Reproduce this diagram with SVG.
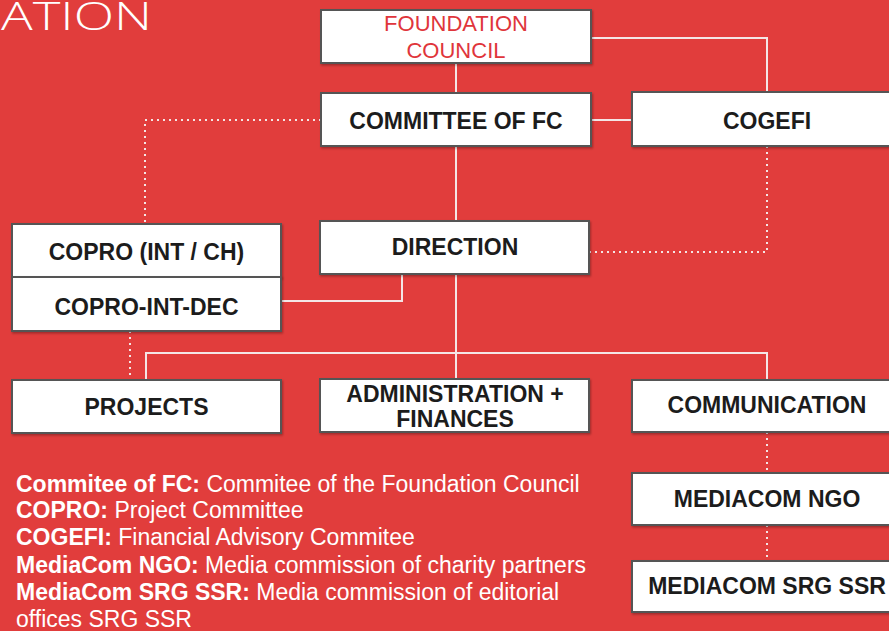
<svg xmlns="http://www.w3.org/2000/svg" width="889" height="631" viewBox="0 0 889 631">
<defs>
<filter id="sh" x="-5%" y="-10%" width="110%" height="130%">
<feDropShadow dx="1" dy="1.5" stdDeviation="1" flood-color="#000" flood-opacity="0.3"/>
</filter>
<style>
.box{fill:#ffffff;stroke:#555555;stroke-width:2;filter:url(#sh)}
.lbl{font-family:"Liberation Sans",Arial,sans-serif;font-size:23px;font-weight:bold;fill:#1c1c1c;text-anchor:middle}
.red{font-family:"Liberation Sans",Arial,sans-serif;font-size:22px;fill:#e0353b;text-anchor:middle}
.solid{fill:none;stroke:#f4e6e6;stroke-width:2}
.dot{fill:none;stroke:#f4e6e6;stroke-width:2;stroke-dasharray:2 4}
.leg{font-family:"Liberation Sans",Arial,sans-serif;font-size:23px;fill:#ffffff}
.leg .b{font-weight:bold}
</style>
</defs>
<rect width="889" height="631" fill="#e13d3c"/>
<text x="1" y="30" font-family="'Open Sans','DejaVu Sans',sans-serif" font-weight="300" font-size="38" fill="#ffffff" textLength="151" lengthAdjust="spacingAndGlyphs">ATION</text>

<g id="connectors">
<polyline class="solid" points="591,38 767,38 767,92"/>
<line class="solid" x1="456" y1="63" x2="456" y2="93"/>
<line class="solid" x1="591" y1="120" x2="632" y2="120"/>
<line class="solid" x1="456" y1="146" x2="456" y2="221"/>
<line class="solid" x1="456" y1="274" x2="456" y2="379"/>
<polyline class="solid" points="402,274 402,301 281,301"/>
<polyline class="solid" points="146,380 146,353 767,353 767,380"/>
<polyline class="dot" points="321,120 145,120 145,224"/>
<polyline class="dot" points="767,146 767,252 589,252"/>
<line class="dot" x1="130" y1="331" x2="130" y2="380"/>
<line class="dot" x1="767" y1="432" x2="767" y2="473"/>
<line class="dot" x1="767" y1="525" x2="767" y2="561"/>
</g>

<g id="foundation-council">
<rect class="box" x="321" y="10" width="270" height="53"/>
<text class="red" x="456" y="31">FOUNDATION</text>
<text class="red" x="456" y="58">COUNCIL</text>
</g>
<g id="committee-fc">
<rect class="box" x="321" y="93" width="270" height="53"/>
<text class="lbl" x="456" y="129">COMMITTEE OF FC</text>
</g>
<g id="cogefi">
<rect class="box" x="632" y="92" width="270" height="54"/>
<text class="lbl" x="767" y="129">COGEFI</text>
</g>
<g id="direction">
<rect class="box" x="320" y="221" width="269" height="53"/>
<text class="lbl" x="455" y="255">DIRECTION</text>
</g>
<g id="copro">
<rect class="box" x="12" y="224" width="269" height="53"/>
<text class="lbl" x="146.5" y="260">COPRO (INT / CH)</text>
</g>
<g id="copro-int-dec">
<rect class="box" x="12" y="277" width="269" height="54"/>
<text class="lbl" x="146.5" y="315">COPRO-INT-DEC</text>
</g>
<g id="projects">
<rect class="box" x="12" y="380" width="269" height="53"/>
<text class="lbl" x="146.5" y="415">PROJECTS</text>
</g>
<g id="admin-finances">
<rect class="box" x="320" y="379" width="269" height="53"/>
<text class="lbl" x="455" y="402">ADMINISTRATION +</text>
<text class="lbl" x="455" y="427">FINANCES</text>
</g>
<g id="communication">
<rect class="box" x="632" y="380" width="270" height="52"/>
<text class="lbl" x="767" y="413">COMMUNICATION</text>
</g>
<g id="mediacom-ngo">
<rect class="box" x="632" y="473" width="270" height="52"/>
<text class="lbl" x="767" y="507">MEDIACOM NGO</text>
</g>
<g id="mediacom-srg">
<rect class="box" x="632" y="561" width="270" height="51"/>
<text class="lbl" x="767" y="594">MEDIACOM SRG SSR</text>
</g>

<g id="legend" class="leg">
<text x="16" y="492"><tspan class="b">Commitee of FC:</tspan> Commitee of the Foundation Council</text>
<text x="16" y="518"><tspan class="b">COPRO:</tspan> Project Committee</text>
<text x="16" y="545"><tspan class="b">COGEFI:</tspan> Financial Advisory Commitee</text>
<text x="16" y="573"><tspan class="b">MediaCom NGO:</tspan> Media commission of charity partners</text>
<text x="16" y="600"><tspan class="b">MediaCom SRG SSR:</tspan> Media commission of editorial</text>
<text x="16" y="627">offices SRG SSR</text>
</g>
</svg>
